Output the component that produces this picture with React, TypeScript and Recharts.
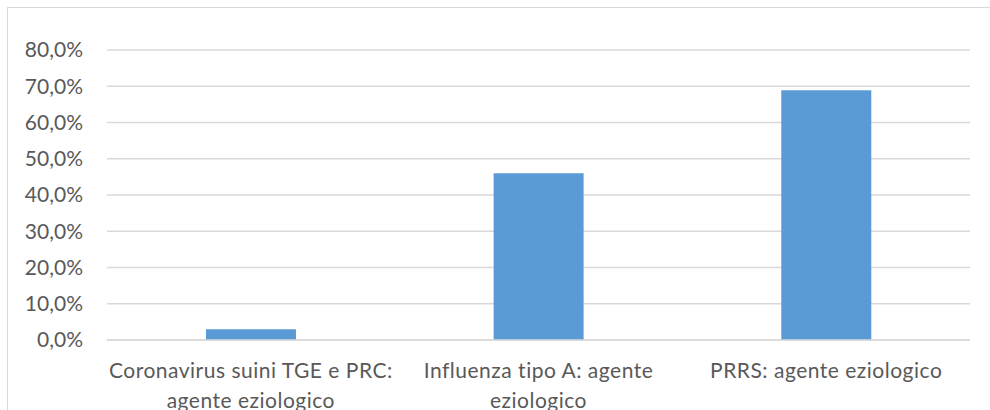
import { Bar, BarChart, CartesianGrid, XAxis, YAxis } from "recharts"

// Categories, split in the lines the reference wraps them into
const categories = [
  "Coronavirus suini TGE e PRC: agente eziologico",
  "Influenza tipo A: agente eziologico",
  "PRRS: agente eziologico",
]
const categoryLines = [
  ["Coronavirus suini TGE e PRC:", "agente eziologico"],
  ["Influenza tipo A: agente", "eziologico"],
  ["PRRS: agente eziologico"],
]
const percentages = [0.03, 0.46, 0.689]
const yTicks = [0, 0.1, 0.2, 0.3, 0.4, 0.5, 0.6, 0.7, 0.8]

const FONT = "Lato, 'Open Sans', sans-serif"
const TEXT = "#595959"

const data = categories.map((name, i) => ({ name, lines: categoryLines[i], value: percentages[i] }))

const formatPct = (v: number) => `${(v * 100).toFixed(1).replace(".", ",")}%`

function CategoryTick({ x, y, payload }: any) {
  const lines = categoryLines[payload.index] ?? [payload.value]
  return (
    <text x={x} y={y} textAnchor="middle" fill={TEXT} fontFamily={FONT} fontSize={21} letterSpacing={0.5}>
      {lines.map((line: string, i: number) => (
        <tspan key={i} x={x} y={y + 38 + i * 30}>
          {line}
        </tspan>
      ))}
    </text>
  )
}

export default function App() {
  return (
    <div style={{ position: "absolute", left: 0, top: 0, width: 990, height: 410, background: "#fff", overflow: "hidden" }}>
      {/* chart area frame, only top and left edges are inside the picture */}
      <div
        style={{
          position: "absolute",
          left: 7,
          top: 7,
          width: 1000,
          height: 420,
          borderTop: "1px solid #d9d9d9",
          borderLeft: "1px solid #d9d9d9",
        }}
      />
      <BarChart
        width={990}
        height={410}
        data={data}
        margin={{ top: 50, right: 20, bottom: 0, left: 0 }}
        barCategoryGap="34.4%"
        style={{ position: "absolute", left: 0, top: 0 }}
      >
        <CartesianGrid vertical={false} stroke="#d9d9d9" strokeWidth={1.5} />
        <XAxis
          dataKey="name"
          height={70}
          axisLine={{ stroke: "#d9d9d9", strokeWidth: 1.5 }}
          tickLine={false}
          tickSize={0}
          tickMargin={0}
          interval={0}
          tick={<CategoryTick />}
        />
        <YAxis
          width={107}
          domain={[0, 0.8]}
          ticks={yTicks}
          tickFormatter={formatPct}
          axisLine={false}
          tickLine={false}
          tickSize={0}
          tickMargin={24}
          tick={{ fill: TEXT, fontFamily: FONT, fontSize: 21 }}
        />
        <Bar dataKey="value" fill="#5b9bd5" isAnimationActive={false} />
      </BarChart>
    </div>
  )
}
